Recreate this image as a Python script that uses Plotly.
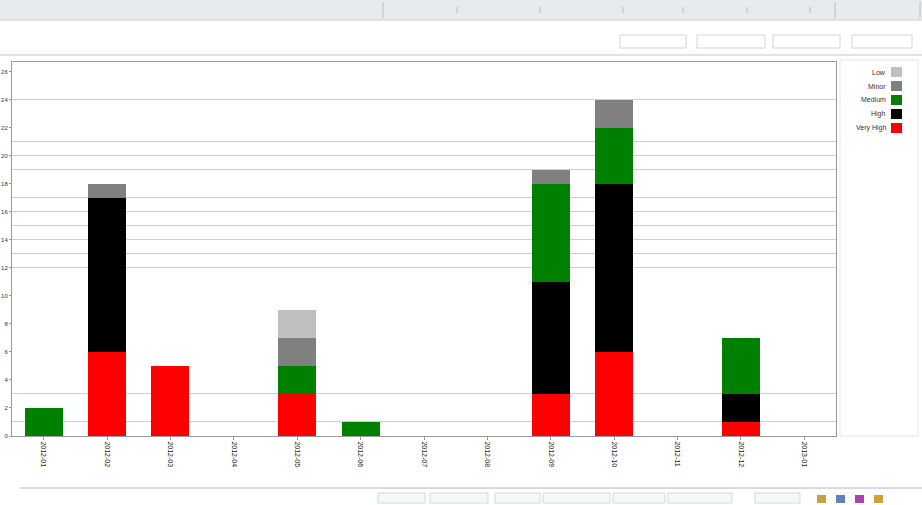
import plotly.graph_objects as go

categories = ["2012-01", "2012-02", "2012-03", "2012-04", "2012-05", "2012-06", "2012-07",
              "2012-08", "2012-09", "2012-10", "2012-11", "2012-12", "2013-01"]
very_high = [0, 6, 5, 0, 3, 0, 0, 0, 3, 6, 0, 1, 0]
high = [0, 11, 0, 0, 0, 0, 0, 0, 8, 12, 0, 2, 0]
medium = [2, 0, 0, 0, 2, 1, 0, 0, 7, 4, 0, 4, 0]
minor = [0, 1, 0, 0, 2, 0, 0, 0, 1, 2, 0, 0, 0]
low = [0, 0, 0, 0, 2, 0, 0, 0, 0, 0, 0, 0, 0]
series_names = ["Very High", "High", "Medium", "Minor", "Low"]
series_colors = ["#ff0000", "#000000", "#008000", "#808080", "#c0c0c0"]
y_ticks = list(range(0, 27, 2))
grid_values = [1, 3, 12, 13, 14, 15, 16, 17, 19, 20, 21, 24]

W, H = 922, 505
L, R, T, B = 12, 836, 62, 436


def px(x):
    return (x - L) / (R - L)


def py(y):
    return (B - y) / (B - T)


fig = go.Figure()
series_values = [very_high, high, medium, minor, low]
for name, vals, col in zip(series_names, series_values, series_colors):
    fig.add_trace(go.Bar(x=categories, y=vals, name=name, showlegend=False,
                         marker=dict(color=col, line=dict(width=0))))

shapes = []
annotations = []
# top tab band
shapes.append(dict(type="rect", xref="paper", yref="paper", x0=px(0), x1=px(W), y0=py(20), y1=py(0),
                   fillcolor="#e8ebee", line=dict(width=0), layer="below"))
shapes.append(dict(type="line", xref="paper", yref="paper", x0=px(0), x1=px(W), y0=py(20), y1=py(20),
                   line=dict(color="#c8cdd2", width=1)))
for sx in [383, 835, 920]:
    shapes.append(dict(type="line", xref="paper", yref="paper", x0=px(sx), x1=px(sx), y0=py(18), y1=py(2),
                       line=dict(color="#b8bcc0", width=1)))
for sx in [457, 540, 623, 683, 747, 810]:
    shapes.append(dict(type="line", xref="paper", yref="paper", x0=px(sx), x1=px(sx), y0=py(13), y1=py(7),
                       line=dict(color="#b8bcc0", width=1)))
# toolbar controls
for x0, x1 in [(620, 686), (697, 765), (773, 840), (852, 912)]:
    shapes.append(dict(type="rect", xref="paper", yref="paper", x0=px(x0), x1=px(x1), y0=py(48), y1=py(35),
                       fillcolor="#ffffff", line=dict(color="#d0d4d8", width=1)))
shapes.append(dict(type="line", xref="paper", yref="paper", x0=px(0), x1=px(W), y0=py(55), y1=py(55),
                   line=dict(color="#e2e4e6", width=2)))
# legend box
shapes.append(dict(type="rect", xref="paper", yref="paper", x0=px(840), x1=px(918), y0=py(436), y1=py(60),
                   fillcolor="rgba(0,0,0,0)", line=dict(color="#e6e6e6", width=1)))
# legend entries (top to bottom: reversed stack order)
for i, (name, col) in enumerate(reversed(list(zip(series_names, series_colors)))):
    yc = 72 + 14 * i
    shapes.append(dict(type="rect", xref="paper", yref="paper", x0=px(891), x1=px(902),
                       y0=py(yc + 5), y1=py(yc - 5), fillcolor=col, line=dict(width=0)))
    annotations.append(dict(xref="paper", yref="paper", x=px(888), y=py(yc), text=name,
                            xanchor="right", yanchor="middle", showarrow=False,
                            font=dict(size=7, color="#333333")))
# bottom status bar
shapes.append(dict(type="line", xref="paper", yref="paper", x0=px(20), x1=px(W), y0=py(488), y1=py(488),
                   line=dict(color="#b0b4b8", width=1)))
for x0, x1 in [(378, 425), (430, 488), (495, 540), (543, 610), (613, 665), (668, 732), (755, 800)]:
    shapes.append(dict(type="rect", xref="paper", yref="paper", x0=px(x0), x1=px(x1), y0=py(503), y1=py(493),
                       fillcolor="#f6f7f8", line=dict(color="#d4d7da", width=1)))
for x0, c in [(817, "#c8a040"), (836, "#6080c0"), (855, "#b040b0"), (874, "#d0a030")]:
    shapes.append(dict(type="rect", xref="paper", yref="paper", x0=px(x0), x1=px(x0 + 9), y0=py(503), y1=py(495),
                       fillcolor=c, line=dict(width=0)))

fig.update_layout(
    width=W, height=H,
    margin=dict(l=L, r=W - R, t=T, b=H - B, autoexpand=False),
    barmode="stack",
    bargap=0.4,
    plot_bgcolor="#ffffff",
    paper_bgcolor="#ffffff",
    font=dict(family="Liberation Sans, Arial, sans-serif", size=7, color="#333333"),
    showlegend=False,
    shapes=shapes,
    annotations=annotations,
    xaxis=dict(
        type="category", tickangle=90, tickfont=dict(size=7, color="#222222"), automargin=False,
        showline=True, linecolor="#9a9a9a", linewidth=1, mirror=True,
        ticks="outside", ticklen=3, tickcolor="#9a9a9a", showgrid=False,
    ),
    yaxis=dict(
        range=[0, 26.7], tickmode="array", tickvals=y_ticks, ticktext=[str(v) for v in y_ticks],
        tickfont=dict(size=6, color="#333333"), automargin=False,
        showline=True, linecolor="#9a9a9a", linewidth=1, mirror=True,
        ticks="outside", ticklen=2, tickcolor="#9a9a9a", showgrid=False, zeroline=False,
        minor=dict(tickmode="array", tickvals=grid_values, showgrid=True, gridcolor="#cfcfcf",
                   gridwidth=1, ticks=""),
    ),
)

fig.write_html("out.html", config={"displayModeBar": False},
               post_script="document.body.style.margin='0';document.body.style.overflow='hidden';")
